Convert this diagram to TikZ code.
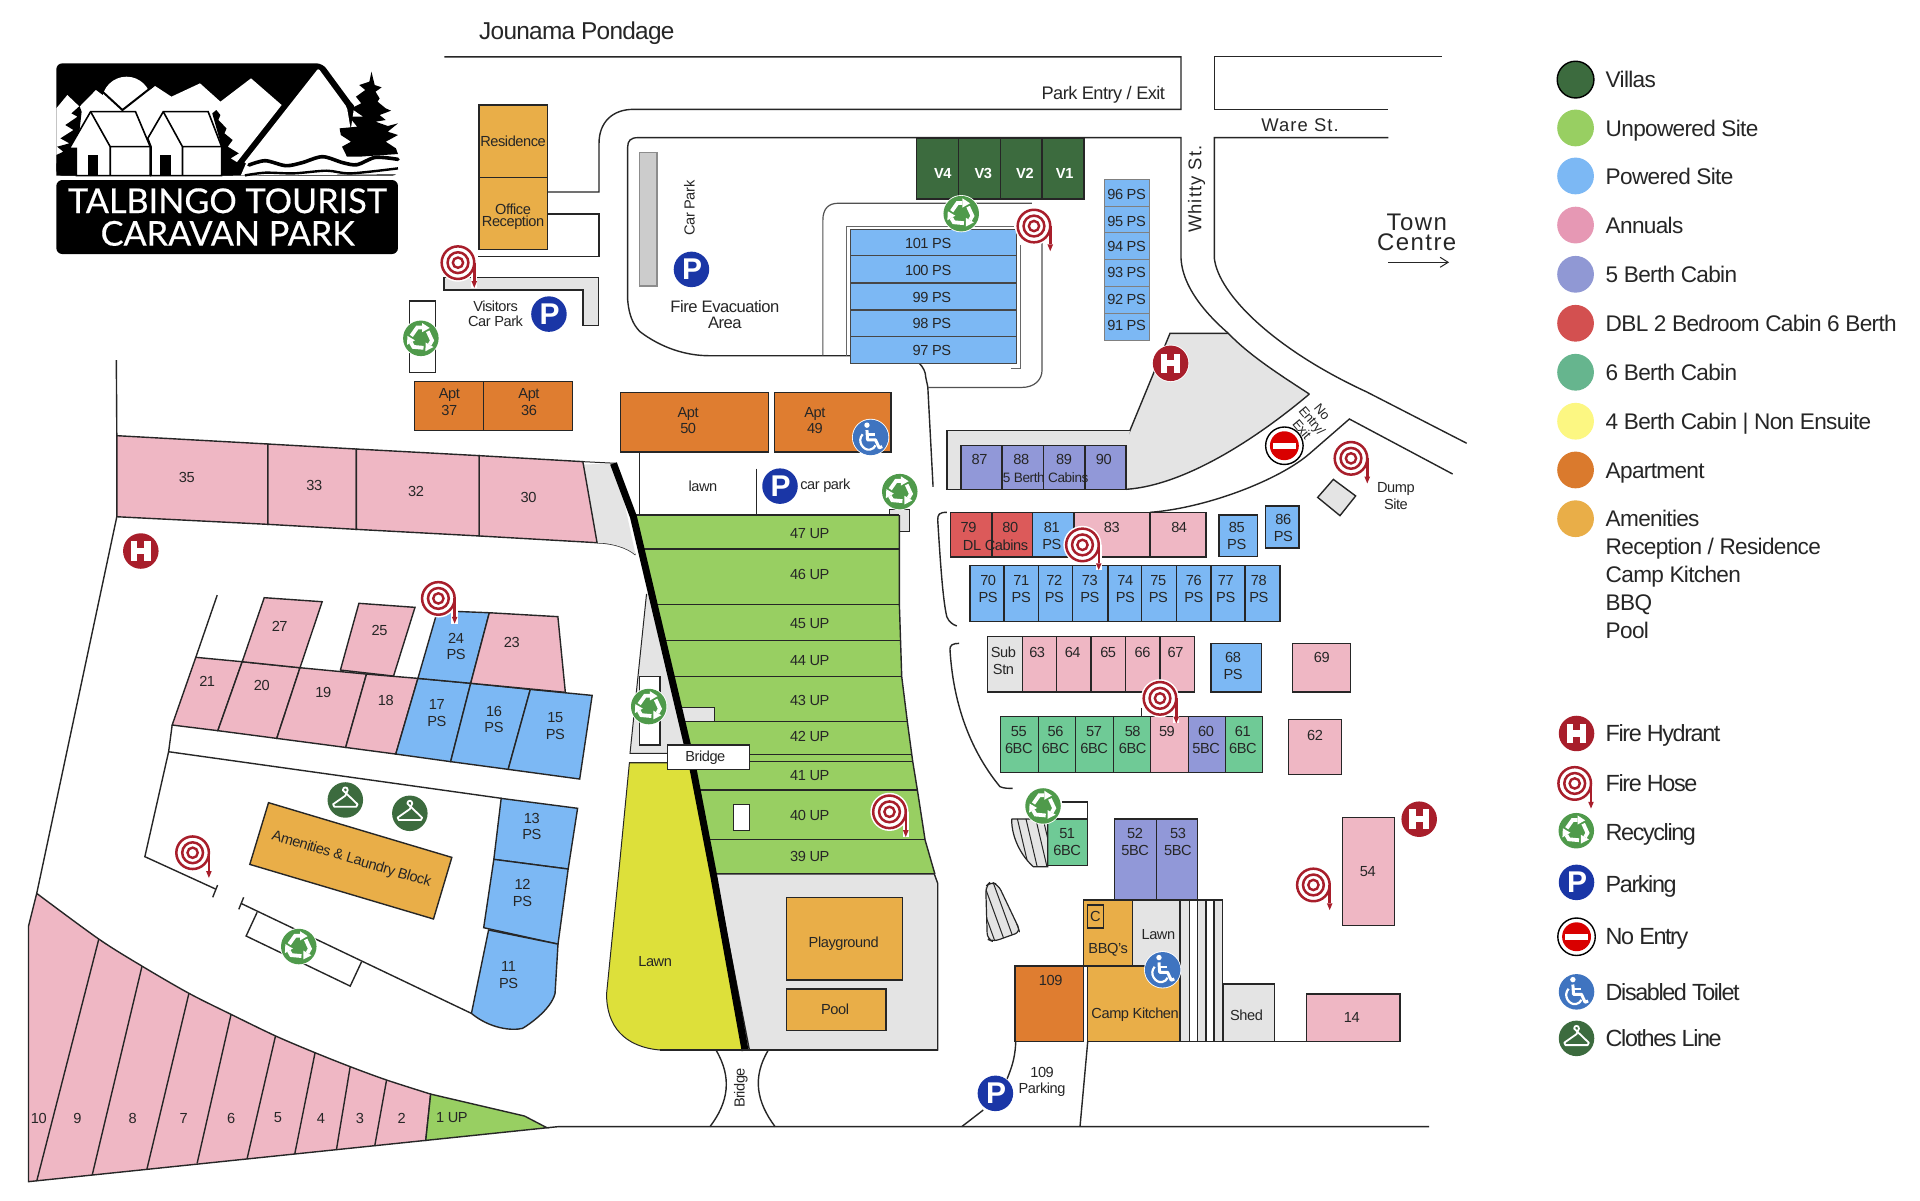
\documentclass[tikz,border=0pt]{standalone}
\usepackage{fontspec}
\setmainfont[LetterSpace=-3]{Liberation Sans}
\newfontfamily\wide[LetterSpace=6]{Liberation Sans}
\newfontfamily\tight[LetterSpace=-6]{Liberation Sans}
\newfontfamily\logofont[FakeBold=0.5]{Lato}
\usetikzlibrary{arrows.meta}
\definecolor{cV}{HTML}{3C6B3E}
\definecolor{cU}{HTML}{98CF62}
\definecolor{cP}{HTML}{7CB8F4}
\definecolor{cA}{HTML}{EFB7C4}
\definecolor{cF}{HTML}{9198D8}
\definecolor{cD}{HTML}{DC5A5A}
\definecolor{cS}{HTML}{6FCA96}
\definecolor{cO}{HTML}{DF7D30}
\definecolor{cM}{HTML}{E9AE48}
\definecolor{cG}{HTML}{E4E4E4}
\definecolor{cY}{HTML}{DDE03A}
\definecolor{ink}{HTML}{262626}
\definecolor{hoseR}{HTML}{A81E2B}
\definecolor{recG}{HTML}{4F9A4B}
\definecolor{parkB}{HTML}{1A36A6}
\definecolor{wcB}{HTML}{3F74C0}
\definecolor{lA}{HTML}{E698B4}
\definecolor{lF}{HTML}{9098D4}
\definecolor{lD}{HTML}{D35050}
\definecolor{lS}{HTML}{66B58E}
\definecolor{lY}{HTML}{FCF782}
\definecolor{lO}{HTML}{DA7A2D}
\tikzset{
  lab/.style={font=\fontsize{7.3}{8.4}\selectfont,text=ink,align=center,inner sep=0pt},
  leg/.style={font=\fontsize{11.3}{13}\selectfont,text=ink,anchor=west,inner sep=0pt,text height=8.2pt,text depth=0pt},
  legb/.style={leg,font=\tight\fontsize{11.7}{13}\selectfont},
  rd/.style={draw=ink,line width=0.7pt},
  pb/.style={draw=ink,line width=0.7pt,line join=miter},
  vl/.style={pb,fill=cV},ug/.style={pb,fill=cU},bp/.style={pb,fill=cP},pk/.style={pb,fill=cA},
  cfive/.style={pb,fill=cF},cred/.style={pb,fill=cD},csix/.style={pb,fill=cS},ap/.style={pb,fill=cO},
  am/.style={pb,fill=cM},gy/.style={pb,fill=cG},
  hydrant/.pic={
    \fill[white] (0,0) circle (15.2);
    \fill[hoseR] (0,0) circle (14.5);
    \fill[white] (-8,-8) rectangle (-3,8);
    \fill[white] (3,-8) rectangle (8,8);
    \fill[white] (-3,-2.5) rectangle (3,2.5);
  },
  hose/.pic={
    \fill[white] (0,0) circle (15.6);
    \draw[white,line width=3.2pt] (13.3,0)--(13.3,20.5);
    \draw[hoseR,line width=1.25pt] (0,0) circle (13.3);
    \draw[hoseR,line width=1.25pt] (0,0) circle (8.5);
    \draw[hoseR,line width=1.2pt] (0,0) circle (4.2);
    \draw[hoseR,line width=1.25pt] (13.3,0)--(13.3,15);
    \fill[hoseR] (11,15)--(15.6,15)--(13.3,20.5)--cycle;
  },
  recycle/.pic={
    \fill[white] (0,0) circle (15.2);
    \fill[recG] (0,0) circle (14.5);
    \foreach \r in {0,120,240}{
      \begin{scope}[rotate=\r]
        \draw[white,line width=1.9pt] (-7.8,-2)--(-3,-8.8)--(1,-8.8);
        \fill[white] (1,-12.5)--(7.2,-8.5)--(1,-5)--cycle;
      \end{scope}}
  },
  parking/.pic={
    \fill[white] (0,0) circle (15.2);
    \fill[parkB] (0,0) circle (14.5);
    \node[font=\fontsize{15}{15}\bfseries\selectfont,text=white,inner sep=0pt] at (0.5,0) {P};
  },
  noentry/.pic={
    \draw[fill=white,draw=black,line width=0.7pt] (0,0) circle (15.3);
    \fill[red!85!black] (0,0) circle (11.8);
    \fill[white] (-9.5,-2.4) rectangle (9.5,2.4);
  },
  toilet/.pic={
    \fill[white] (0,0) circle (15.2);
    \fill[wcB] (0,0) circle (14.5);
    \fill[white] (-3,-10) circle (2.2);
    \draw[white,line width=1.5pt,line join=round] (-3,-6)--(-2.5,2)--(4,2)--(7,8.5)--(9.5,7.5);
    \draw[white,line width=1.2pt] (-2.8,-2.5)--(3.5,-2.5);
    \draw[white,line width=1.1pt] (-6.5,-2.5) .. controls (-11.5,3) and (-6,11) .. (-0.5,10) .. controls (1.5,9.8) and (3.5,8) .. (4,6.5);
  },
  hanger/.pic={
    \fill[white] (0,0) circle (15.2);
    \fill[cV] (0,0) circle (14.5);
    \draw[white,line width=0.9pt,line join=round] (-2,-8) .. controls (-2,-11) and (2,-11) .. (2,-8) .. controls (2,-6) and (0,-6) .. (0,-3.5) -- (-10,3.5) -- (-9,5.5) -- (9,5.5) -- (10,3.5) -- cycle;
  }
}
\newcommand{\lab}[4][]{\node[lab,#1] at (#2,#3) {#4};}
\begin{document}
\begin{tikzpicture}[x=0.61224pt,y=-0.61224pt]
\useasboundingbox (0,0) rectangle (1568,980);
\fill[white] (0,0) rectangle (1568,980);

%% ---------- logo (coordinates of a 3 : 3.673 grid)
\begin{scope}[x=0.20408pt,y=-0.16669pt]
  \fill[black,rounded corners=3pt] (138,527)--(138,190)--(790,190)--(868,320)--(975,320)--(975,527)--cycle;
  \fill[white] (795,186)--(980,186)--(980,465)--(850,465)--(868,318)--cycle;
  \fill[white,rounded corners=1pt] (780,205)--(850,322)--(872,480)--(597,490)--cycle;
  \fill[white] (310,303) ellipse [x radius=60,y radius=73];
  \fill[white] (138,325)--(165,285)--(195,320)--(235,270)--(300,330)--(380,258)--(420,290)--(490,250)--(540,305)--(615,235)--(690,315)--(578,490)--(138,490)--cycle;
  \draw[black,line width=1pt] (245,268)--(300,330)--(375,258);
  \fill[black] (138,527)--(138,465)--(155,455)--(140,440)--(170,430)--(148,415)--(180,390)--(160,375)--(190,350)--(175,340)--(195,318)--(200,335)--(190,445)--(187,527)--cycle;
  \fill[black] (530,330)--(540,345)--(535,360)--(555,385)--(550,400)--(570,420)--(558,440)--(585,460)--(565,475)--(585,490)--(570,527)--(543,527)--(543,440)--(520,340)--cycle;
  \draw[fill=white,draw=black,line width=0.8pt] (222,335)--(170,445)--(187,445)--(187,527)--(368,527)--(368,440)--(332,335)--cycle;
  \draw[black,line width=0.8pt] (222,335)--(270,440)--(270,527) (270,440)--(370,440);
  \fill[black] (215,465) rectangle (240,527);
  \draw[fill=white,draw=black,line width=0.8pt] (400,335)--(362,415)--(370,440)--(370,527)--(543,527)--(543,440)--(510,335)--cycle;
  \draw[black,line width=0.8pt] (400,335)--(447,440)--(447,527) (447,440)--(548,440);
  \fill[black] (393,465) rectangle (418,527);
  \fill[white] (590,526)--(605,484)--(700,470)--(975,460)--(975,523)--cycle;
  \draw[black,line width=1.8pt,line cap=round] plot[smooth] coordinates {(610,495) (650,482) (700,497) (740,488) (790,470) (840,488) (875,494) (920,472) (975,478)};
  \draw[black,line width=1.2pt] plot[smooth] coordinates {(600,526) (650,518) (720,520) (800,512) (860,520) (975,505)};
  \fill[black] (910,215)--(918,255)--(935,262)--(920,275)--(930,295)--(925,305)--(945,325)--(958,332)--(930,345)--(945,360)--(920,365)--(950,378)--(975,370)--(950,395)--(975,405)--(945,425)--(970,445)--(975,462)--(880,470)--(850,470)--(838,440)--(860,425)--(835,405)--(832,385)--(875,380)--(855,350)--(890,350)--(860,325)--(885,310)--(872,290)--(895,270)--(880,255)--(905,245)--cycle;
  \fill[black,rounded corners=3pt] (138,540) rectangle (975,762);
\end{scope}
\node[font=\logofont\fontsize{17.1}{17}\selectfont,text=white,inner sep=0pt] (logoA) at (185.7,164) {TALBINGO TOURIST};
\node[font=\logofont\fontsize{17.1}{17}\selectfont,text=white,inner sep=0pt] (logoB) at (186,190.6) {CARAVAN PARK};

%% ---------- roads
\draw[rd] (363,46.4)--(964.5,46.4)--(964.5,89.3)--(517.3,89.3) .. controls (500,89.3) and (489.2,100) .. (489.2,117)--(489.2,156.8)--(447.3,156.8);
\draw[rd] (447.3,174.8)--(489.2,174.8)--(489.2,209.6)--(390.7,209.6);
\draw[rd] (1177.4,46.3)--(991.7,46.3)--(991.7,89.3)--(1133.8,89.3);
\draw[rd] (1133.8,112.4)--(991.7,112.4)--(991.7,211) .. controls (995,240) and (1040,285) .. (1116,320) -- (1197.8,362);
\draw[rd] (939.1,418.4) .. controls (985,415) and (1045,392) .. (1070,370) -- (1102,342.2)--(1186.3,387.1);
\fill[cG] (955.5,272.2)--(1003.1,272.2) .. controls (1020,290) and (1045,306) .. (1069.3,321.8) .. controls (1030,355) and (970,396) .. (920,399.6)--(917.9,363.4)--cycle;
\draw[rd] (917.9,363.4)--(955.5,272.2)--(1003.1,272.2);
\draw[rd] (1069.3,321.8) .. controls (1030,355) and (970,396) .. (920,399.6);
\draw[rd] (512.6,245)--(512.6,120) .. controls (512.6,115) and (515,112.4) .. (521,112.4)--(964.5,112.4)--(964.5,211) .. controls (966,240) and (995,265) .. (1003.1,272.2) .. controls (1020,290) and (1045,306) .. (1069.3,321.8);
\draw[rd] (512.6,245) .. controls (514,262) and (520,268) .. (522.7,270.9) .. controls (540,284) and (560,290.5) .. (579.4,290.5)--(736,290.5) .. controls (748,291) and (756,300) .. (756,308)--(757.7,316)--(762,397.5);
\draw[rd,draw=ink!80,line width=0.6pt] (672,290.5)--(672,180) .. controls (672,170) and (677,166) .. (684.4,166)--(842.7,166);
\draw[rd,draw=ink!80,line width=0.6pt] (851,193.3)--(851,302.2) .. controls (851,310) and (845,316.4) .. (834.4,316.4)--(757.7,316.4);
\draw[rd,draw=ink!70,line width=0.5pt] (691,290.5)--(691,184.6)--(828,184.6) (833.4,200)--(833.4,300.8)--(826,300.8);
\draw[rd] (773.2,418.4) .. controls (767,418.4) and (765.8,420) .. (765.8,424.7) .. controls (768,460) and (770,490) .. (773.2,503.6) .. controls (775,508) and (778,510) .. (781.4,511.2);
\draw[rd] (783.3,525.4) .. controls (778,525.4) and (775.8,527) .. (775.8,530) .. controls (778,570) and (790,610) .. (816.6,642.4) .. controls (820,644) and (824,643.8) .. (827,643.8);
\draw[rd] (867,655)--(888.2,655)--(888.2,668.8);
\draw[rd] (95,294)--(95.4,355.8);
\draw[rd] (95.4,422)--(30,729.6);
\draw[rd] (487.6,443.2) .. controls (500,443.5) and (512,447) .. (519,453);
\draw[rd] (177.4,486)--(159.9,536.8);
\draw[rd] (140.6,592.1)--(137.7,613.9)--(118.3,699.6)--(176,726);
\draw[rd] (137.7,613.9)--(409.8,652);
\draw[rd] (177.7,722.8)--(173.7,732.8) (199,732.8)--(195,742.6);
\draw[rd] (196.7,737.7)--(385,827.6);
\draw[rd] (210,745)--(201,764.4)--(286,805.3)--(295.3,785.4);
\draw[rd] (446.7,921)--(456.7,920)--(1167,920);
\draw[rd] (584.7,857.5) .. controls (598,880) and (595,900) .. (579.8,920.1);
\draw[rd] (627.5,857.5) .. controls (614,880) and (618,900) .. (633,920.1);
\draw[rd] (829.5,850.7) .. controls (829,870) and (822,880) .. (820,888) (803,906.5) -- (785.4,920.1);
\draw[rd] (888.3,850.7)--(882,920.1);
\draw[rd] (617.7,382.6)--(617.7,420.6);
\draw[rd] (522.2,369.2)--(522.2,420.6);
\node[font=\wide\fontsize{9.2}{10}\selectfont,text=ink,inner sep=0pt] (ware) at (1061.7,102) {Ware St.};
\node[font=\wide\fontsize{9.2}{10}\selectfont,text=ink,inner sep=0pt,rotate=90] (whitty) at (977.3,154.5) {Whitty St.};
\node[font=\wide\fontsize{12}{10}\selectfont,text=ink,inner sep=0pt,align=center] (town) at (1157,189.5) {Town\\Centre};
\coordinate (arA) at (1133.8,214.2);
\coordinate (arB) at (1183.4,214.2);
\draw[ink,line width=0.5pt,-{Straight Barb[length=4pt,width=5pt]}] (arA)--(arB);

%% ---------- buildings top
\draw[am] (391.3,85.8) rectangle (447.3,144.8);
\draw[am] (391.3,144.8) rectangle (447.3,203.6);
\draw[gy] (362.7,226.8)--(489,226.8)--(489,266)--(476,266)--(476,236.9)--(362.7,236.9)--cycle;
\draw[pb,fill=white] (334.3,245.9) rectangle (355.7,304.1);
\draw[pb,fill=black!20,draw=black!45] (522.2,124.7) rectangle (536.7,233.6);
\foreach \a/\b in {748.4/782.7,782.7/817,817/851,851/885.4}{\draw[vl] (\a,113) rectangle (\b,162.6);}
\foreach \a/\b in {187.3/208.8,208.8/231.2,231.2/253.2,253.2/275,275/296.8}{\draw[bp,draw=ink!85] (694.7,\a) rectangle (830,\b);}
\foreach \a/\b in {146.2/168.3,168.3/190,190/211.8,211.8/233.6,233.6/255.9,255.9/277.7}{\draw[bp,draw=black!50,line width=0.5pt] (901.7,\a) rectangle (938.7,\b);}
\draw[ap] (338.7,311.7) rectangle (394.7,351.7);
\draw[ap] (394.7,311.7) rectangle (467.7,351.7);
\draw[ap] (506.7,320.7) rectangle (627.7,369.2);
\draw[ap] (632.7,320.7) rectangle (727.7,369.2);
\draw[gy] (919.4,399.7)--(773.4,399.7)--(773.4,351.8)--(922.7,351.8);
\foreach \a/\b in {784.7/818.4,818.4/852.4,852.4/886,886/919.4}{\draw[cfive] (\a,364) rectangle (\b,399.7);}

%% ---------- right blocks
\draw[gy] (726.4,416) rectangle (742.7,434.2);
\draw[cred] (776,418.4) rectangle (810,455);
\draw[cred] (810,418.4) rectangle (843,455);
\draw[bp] (843,418.4) rectangle (877,455);
\draw[pk] (877,418.4) rectangle (939.1,455);
\draw[pk] (939.1,418.4) rectangle (984.9,455);
\draw[bp] (995.5,420.6) rectangle (1027,454.6);
\draw[bp] (1033.6,413.2) rectangle (1060.8,447.5);
\foreach \a/\b in {792.3/820,820/848,848/876,876/905,905/932.3,932.3/960.9,960.9/989,989/1016.7,1016.7/1045.3}{\draw[bp] (\a,462) rectangle (\b,507.7);}
\draw[gy] (1088.9,391.5)--(1107.1,405)--(1094.3,421.1)--(1076.1,406.2)--cycle;
\draw[gy] (806.6,520) rectangle (835.2,565);
\foreach \a/\b in {835.2/862.7,862.7/891,891/919.3,919.3/947.3,947.3/975.4}{\draw[pk] (\a,520) rectangle (\b,565);}
\draw[bp] (989,525.4) rectangle (1030.4,565.1);
\draw[pk] (1055.4,525.4) rectangle (1103,565.1);
\draw[rd] (932.3,578)--(932.3,585.3);
\foreach \a/\b in {817.2/848,848/878.4,878.4/909.2,909.2/939.7}{\draw[csix] (\a,585.3) rectangle (\b,630.7);}
\draw[pk] (939.7,585.3) rectangle (970.5,630.7);
\draw[cfive] (970.5,585.3) rectangle (1001,630.7);
\draw[csix] (1001,585.3) rectangle (1031.2,630.7);
\draw[pk] (1052.4,587.4) rectangle (1095.7,632.6);
\draw[pk] (1096.5,667.5) rectangle (1138.7,755.7);
\draw[csix] (855.6,668.8) rectangle (888.2,707);
\draw[cfive] (910,668.8) rectangle (944.6,735);
\draw[cfive] (944.6,668.8) rectangle (977.8,735);
\draw[am] (884.7,735) rectangle (925,789);
\draw[am] (888,739) rectangle (901,758);
\draw[gy] (925,735) rectangle (963.7,789);
\draw[ap] (828.9,789) rectangle (884.7,850.7);
\draw[am] (888,789) rectangle (963.7,850.7);
\draw[gy] (963.7,735) rectangle (971.3,850.7);
\draw[pb,fill=white] (971.3,735) rectangle (977.8,850.7);
\draw[gy] (977.8,735) rectangle (984.9,850.7);
\draw[pb,fill=white] (984.9,735) rectangle (991.4,850.7);
\draw[gy] (991.4,735) rectangle (998.5,850.7);
\draw[gy] (999,803.6) rectangle (1040.7,850.7);
\draw[rd] (1040.7,850.7)--(1067.1,850.7);
\draw[pk] (1067.1,811.8) rectangle (1143.3,850.7);
% striped islands
\draw[gy,line width=0.6pt] (826.2,668.8)--(855.6,668.8)--(855.6,707.8)--(843.9,707.8) .. controls (835,700) and (826,685) .. (826.2,668.8);
\begin{scope}
  \clip (826.2,668.8)--(855.6,668.8)--(855.6,707.8)--(843.9,707.8) .. controls (835,700) and (826,685) .. (826.2,668.8);
  \foreach \s in {830,837,845,851}{\draw[ink,line width=0.5pt] (\s,665)--(\s+11,712);}
\end{scope}
\draw[gy,line width=0.6pt,rounded corners=3pt] (809,720)--(805,724)--(806.3,767)--(811.2,769)--(833.5,761)--(815.3,722.7)--cycle;
\begin{scope}
  \clip (809,720)--(805,724)--(806.3,767)--(811.2,769)--(833.5,761)--(815.3,722.7)--cycle;
  \foreach \s in {793,801,809,816}{\draw[ink,line width=0.5pt] (\s,715)--(\s+20,770);}
\end{scope}

%% ---------- central green
\fill[cG] (476,379.4)--(503,378.4)--(519,453) .. controls (512,447) and (500,443.5) .. (487.6,443.2)--cycle;
\draw[rd,line width=0.5pt] (476,377)--(504,378.4);
\fill[cG] (528,485)--(514.5,615.3)--(562,615.3)--(532,485)--cycle;
\draw[rd,line width=0.5pt] (528,485)--(514.5,615.3)--(545,615.3);
\draw[rd,line width=0.5pt] (514,623)--(545,623);
\draw[pb,fill=white] (522.2,552.6) rectangle (539,608.4);
\fill[cU] (516,420.6)--(734.5,420.6)--(734.5,494)--(736.4,552.6)--(741,589.4)--(745.4,622)--(749.2,645.2)--(755.5,686)--(763.5,713.8)--(585,713.8)--cycle;
\draw[rd] (734.5,420.6)--(734.5,494)--(736.4,552.6)--(741,589.4)--(745.4,622)--(749.2,645.2)--(755.5,686)--(763.5,713.8);
\foreach \a/\b/\c in {516/420.6/734.5,523.5/448.4/734.5,535/493.6/734.5,543/523.2/736,550/552.6/737,560/589.4/741,567/616/744.5,569/622/745.4,572/645.2/749.2,579/685.5/755.5,585/713.8/763.5}{\draw[rd] (\a,\b)--(\c,\b);}
\draw[gy] (556.7,578) rectangle (583.4,589.4);
\draw[pb,fill=white] (599,657) rectangle (612,678);
\draw[gy] (584,713.7)--(763,713.7)--(765.8,721.4)--(765.8,857.5)--(612,857.5)--cycle;
\draw[am] (642.5,732.8) rectangle (737.2,800.3);
\draw[am] (642.5,807.7) rectangle (723.6,841.7);
\draw[pb,fill=cY,line width=0.5pt] (514,623)--(567,623)--(583,716)--(608,857.5)--(539,857.5) .. controls (510,855) and (495,838) .. (495.4,811.2)--(506.3,702.3)--cycle;
\draw[black,line width=3.5pt,line join=round] (501,378.5)--(517.3,422)--(566,628)--(583,716)--(608.5,858);
\draw[rd] (539,857.5)--(765.8,857.5);
\draw[pb,fill=white] (545.3,608.4) rectangle (612,628.3);

%% ---------- left plots
\draw[pk] (95.4,355.8)--(218.8,362.6)--(218.8,428.2)--(95.4,422)--cycle;
\draw[pk] (218.8,362.6)--(291,366.7)--(291,432.3)--(218.8,428.2)--cycle;
\draw[pk] (291,366.7)--(391.4,372.1)--(391.4,437.7)--(291,432.3)--cycle;
\draw[pk] (391.4,372.1)--(476,377)--(487.6,443.2)--(391.4,437.7)--cycle;
\draw[pk] (159.9,536.8)--(197.8,540.4)--(177.9,596.7)--(140.6,592.1)--cycle;
\draw[pk] (197.8,540.4)--(245,545.3)--(226,603)--(177.9,596.7)--cycle;
\draw[pk] (245,545.3)--(299.3,550.5)--(282.3,610.4)--(226,603)--cycle;
\draw[pk] (299.3,550.5)--(341.3,554)--(323.2,615.8)--(282.3,610.4)--cycle;
\draw[bp] (341.3,554)--(384.4,558)--(368,622)--(323.2,615.8)--cycle;
\draw[bp] (384.4,558)--(433.1,563)--(415,628.3)--(368,622)--cycle;
\draw[bp] (433.1,563)--(483.6,567.9)--(473.4,636.2)--(415,628.3)--cycle;
\draw[pk] (215.8,488.1)--(263.1,491.4)--(245,545.3)--(197.8,540.4)--cycle;
\draw[pk] (293.1,492.7)--(338.9,496)--(321.4,552.1)--(278,547.2)--cycle;
\draw[bp] (357.3,498.7)--(399.6,500.4)--(384.4,558)--(341.3,554)--cycle;
\draw[pk] (399.6,500.4)--(455.6,503.6)--(461.7,565.4)--(384.4,558)--cycle;
\draw[bp] (409.3,652)--(471.7,660.1)--(464,709.7)--(403.3,701.8)--cycle;
\draw[bp] (403.3,701.8)--(464,709.7)--(455.7,771)--(395,757.6)--cycle;
\draw[bp] (399,759.5)--(455.7,771)--(453.3,811.2) .. controls (450,825) and (430,838) .. (426.7,839.8) .. controls (418,842) and (400,840) .. (385,827.6)--cycle;
\draw[am] (219.3,655.5)--(369,700.2)--(354,750.5)--(204,705.9)--cycle;

%% ---------- wedge plots
\draw[pk] (23.3,756.3)--(30,729.6) -- plot[smooth] coordinates {(30,729.6) (80.7,766.9) (116,789) (154.3,811.2) (188.7,828.4) (225,846) (257.3,859.7) (286,871.1) (315.7,882) (351.7,893.5)} -- (347.7,931.3)--(23.3,965)--cycle;
\draw[ug] (351.7,893.5)--(428.3,911.4)--(446.7,921)--(347.7,931.3)--cycle;
\foreach \a/\b/\c/\d in {80.7/766.9/30/964.5,116/789/75.3/959.6,154.3/811.2/120/954.7,188.7/828.4/161/950,225/846/201.7/946.6,257.3/859.7/240.7/942.5,286/871.1/274.7/939.2,315.7/882/306/936}{\draw[rd] (\a,\b)--(\c,\d);}

%% ---------- labels
\node[font=\fontsize{12.2}{14}\selectfont,text=ink,inner sep=0pt,anchor=west] (jp) at (391,27) {Jounama Pondage};
\lab[font=\fontsize{9.1}{10}\selectfont]{901}{77.6}{Park Entry / Exit}
\lab{419}{115}{Residence}
\lab{419}{177}{Office\\[-2pt]Reception}
\lab[rotate=90]{563}{170}{Car Park}
\lab{404.7}{256}{Visitors\\[-1pt]Car Park}
\lab[font=\fontsize{8.3}{8.2}\selectfont]{592}{257}{Fire Evacuation\\Area}
\foreach \x/\t in {770/V4,803/V3,837/V2,869.5/V1}{\node[lab,font=\fontsize{7.3}{8}\bfseries\selectfont,text=white] at (\x,142) {\t};}
\foreach \x/\y/\t in {758/198.5/101 PS,758/220.5/100 PS,761/243/99 PS,761/264.5/98 PS,761/286/97 PS,920/158.5/96 PS,920/181/95 PS,920/201/94 PS,920/222.5/93 PS,920/244.5/92 PS,920/266/91 PS}{\lab{\x}{\y}{\t}}
\foreach \x/\t in {367/Apt\\37,432/Apt\\36}{\lab{\x}{328.5}{\t}}
\lab{562}{343.5}{Apt\\50}
\lab{665.5}{343.5}{Apt\\49}
\lab{574}{397}{lawn}
\lab{674}{397}{car park}
\foreach \x/\t in {800/87,834/88,869/89,901.5/90}{\lab{\x}{375.5}{\t}}
\lab[font=\fontsize{6.8}{8}\selectfont]{854}{389.9}{5 Berth Cabins}
\lab[rotate=-50,font=\fontsize{6.6}{6.6}\selectfont]{1071.5}{343.5}{No\\Entry/\\Exit}
\lab{1140}{405}{Dump\\Site}
\foreach \x/\y/\t in {152.6/389.8/35,256.7/396.6/33,339.8/401.3/32,431.7/406.2/30,169.2/556.2/21,213.8/560/20,264/565.4/19,315/572.2/18,228.4/511.3/27,310/514.5/25,418/524.6/23,372.5/528/24\\PS,356.7/582/17\\PS,403.4/587.5/16\\PS,453.5/592.7/15\\PS,434.3/675/13\\PS,426.7/729/12\\PS,415.3/796/11\\PS}{\lab{\x}{\y}{\t}}
\lab[rotate=-16.6]{287}{702}{Amenities \& Laundry Block}
\foreach \x/\t in {31.7/10,63.3/9,108.3/8,150/7,188.7/6,227/5,262/4,294/3,328/2,369/1 UP}{\lab{\x}{913}{\t}}
\foreach \y/\t in {435.6/47,469/46,509/45,539.3/44,571.7/43,601.6/42,633.5/41,666/40,699.7/39}{\lab{661.3}{\y}{\t{} UP}}
\lab{576}{618.5}{Bridge}
\lab{535}{785}{Lawn}
\lab{689}{771}{Playground}
\lab{682}{824.5}{Pool}
\lab[rotate=90]{605}{888.5}{Bridge}
\lab{858}{801}{109}
\lab{851}{883.5}{109\\Parking}
\lab{927}{829}{Camp Kitchen}
\lab{905}{776}{BBQ's}
\lab{894.5}{748.5}{C}
\lab{946}{763}{Lawn}
\lab{1018}{829}{Shed}
\lab{1104}{831}{14}
\lab{1117}{711.5}{54}
\lab{791}{431}{79}
\lab{825}{431}{80}
\lab{813}{445}{DL Cabins}
\lab{859}{438}{81\\PS}
\lab{908}{431}{83}
\lab{963}{431}{84}
\lab{1010}{438}{85\\PS}
\lab{1048}{431}{86\\PS}
\foreach \x/\t in {807/70,834/71,861/72,890/73,919/74,946/75,975/76,1001/77,1028/78}{\lab{\x}{481}{\t\\PS}}
\lab{819.5}{539.5}{Sub\\Stn}
\foreach \x/\t in {847/63,876/64,905/65,933/66,960/67}{\lab{\x}{532.5}{\t}}
\lab{1007}{544}{68\\PS}
\lab{1079.5}{537}{69}
\foreach \x/\t in {832/55,862/56,893.5/57,925/58,985/60,1015/61}{\lab{\x}{604.5}{\t\\\ifnum\t=60 5\else 6\fi BC}}
\lab{953}{597}{59}
\lab{1074}{600.5}{62}
\lab{871.5}{687.5}{51\\6BC}
\lab{927}{687.5}{52\\5BC}
\lab{962}{687.5}{53\\5BC}

%% ---------- legend
\draw[fill=cV,draw=black,line width=0.7pt] (1286.7,65) circle (15);
\foreach \y/\c in {104.5/cU,143.7/cP,183.8/lA,224/lF,264/lD,304/lS,344/lY,383.8/lO,423.6/cM}{\fill[\c] (1286.7,\y) circle (15);}
\foreach \y/\t in {65/Villas,104.5/Unpowered Site,143.7/Powered Site,183.8/Annuals,224/5 Berth Cabin,264/DBL 2 Bedroom Cabin 6 Berth,304/6 Berth Cabin,344/4 Berth Cabin | Non Ensuite,383.8/Apartment,423.6/Amenities,469/Camp Kitchen,491.5/BBQ,514.5/Pool}{\node[leg] at (1311,\y) {\t};}
\node[leg] at (1311,446.5) {Reception / Residence};
\foreach \y/\t in {599/Fire Hydrant,640/Fire Hose,680/Recycling,722/Parking,764.5/No Entry,810.7/Disabled Toilet,848/Clothes Line}{\node[legb] at (1311,\y) {\t};}

%% ---------- icons
\foreach \x/\y in {956/296.7,115/450,1159/669,1287.5/599}{\pic at (\x,\y) {hydrant};}
\foreach \x/\y in {374/214.5,844.4/184.6,358/488.7,157.3/696.4,726.4/663,1103.3/374.3,884/445,947.3/570.3,1072.6/722.7,1286/639.8}{\pic at (\x,\y) {hose};}
\foreach \x/\y in {343.7/276.3,785/174.5,734.8/401.5,529.8/577,244/773,851.8/658.2,1287.3/678.4}{\pic at (\x,\y) {recycle};}
\foreach \x/\y in {448.3/256.5,564.7/220,637/397,812.9/892.9,1287.5/720.6}{\pic at (\x,\y) {parking};}
\foreach \x/\y in {1048.9/364,1287.5/765}{\pic at (\x,\y) {noentry};}
\foreach \x/\y in {711/357.2,949.5/792,1287.5/810}{\pic at (\x,\y) {toilet};}
\foreach \x/\y in {282/653.3,334.7/664.2,1287.5/848}{\pic at (\x,\y) {hanger};}
\end{tikzpicture}
\end{document}
